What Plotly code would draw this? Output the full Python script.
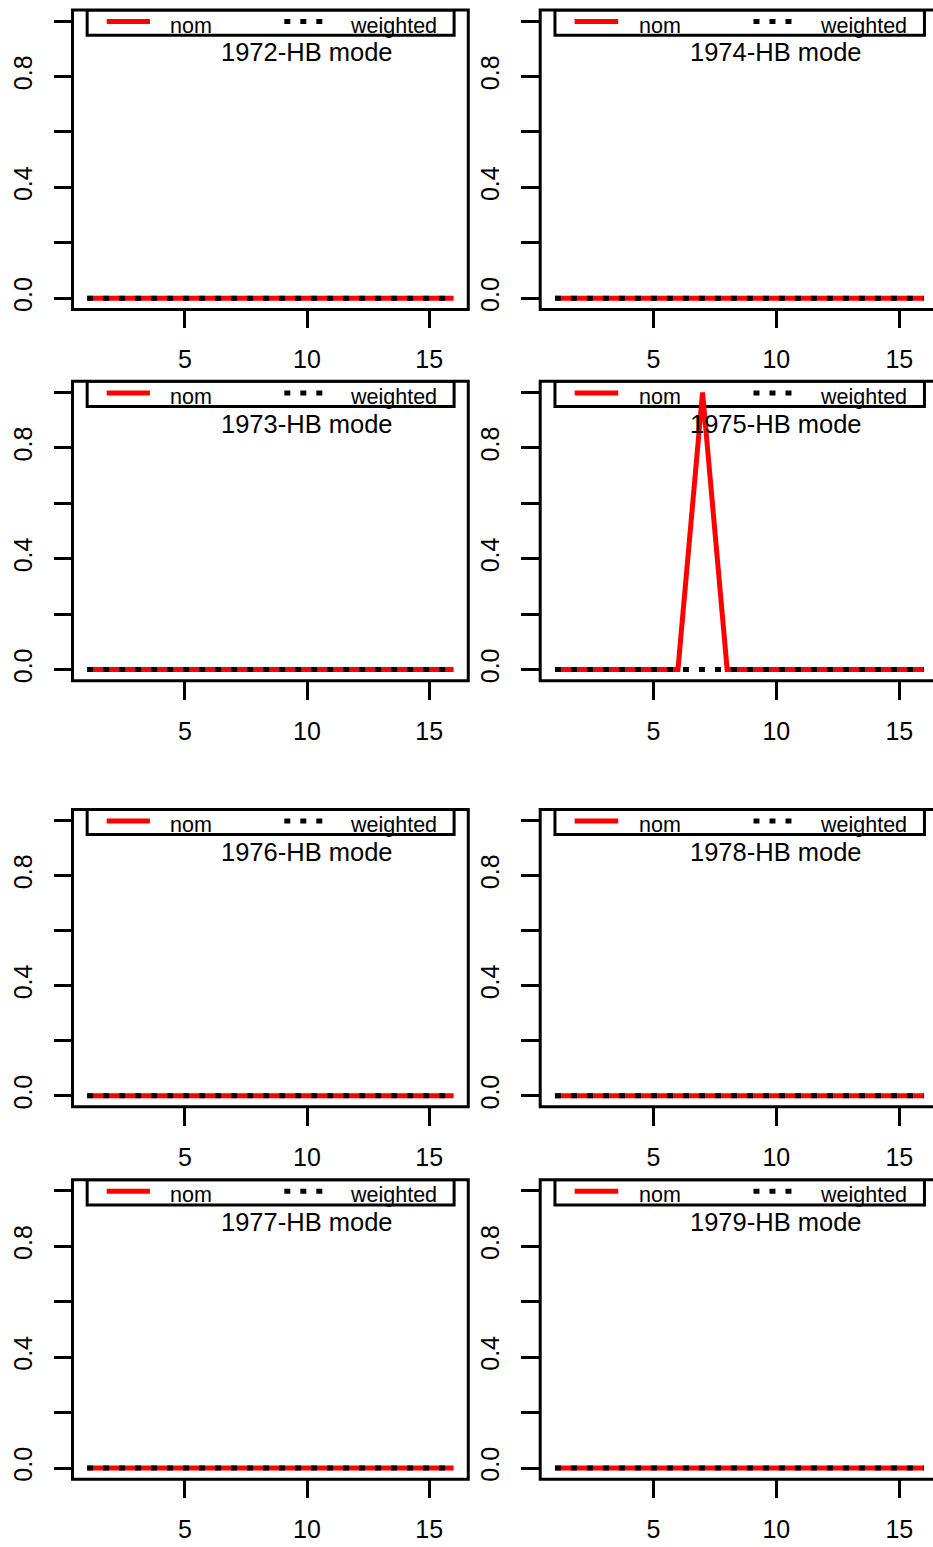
import plotly.graph_objects as go

# Age index on the horizontal axis
age_index = [1, 2, 3, 4, 5, 6, 7, 8, 9, 10, 11, 12, 13, 14, 15, 16]

# Nominal ("nom") and weighted mode proportions by year
nom_1972 = [0, 0, 0, 0, 0, 0, 0, 0, 0, 0, 0, 0, 0, 0, 0, 0]
weighted_1972 = [0, 0, 0, 0, 0, 0, 0, 0, 0, 0, 0, 0, 0, 0, 0, 0]
nom_1973 = [0, 0, 0, 0, 0, 0, 0, 0, 0, 0, 0, 0, 0, 0, 0, 0]
weighted_1973 = [0, 0, 0, 0, 0, 0, 0, 0, 0, 0, 0, 0, 0, 0, 0, 0]
nom_1974 = [0, 0, 0, 0, 0, 0, 0, 0, 0, 0, 0, 0, 0, 0, 0, 0]
weighted_1974 = [0, 0, 0, 0, 0, 0, 0, 0, 0, 0, 0, 0, 0, 0, 0, 0]
nom_1975 = [0, 0, 0, 0, 0, 0, 1, 0, 0, 0, 0, 0, 0, 0, 0, 0]
weighted_1975 = [0, 0, 0, 0, 0, 0, 0, 0, 0, 0, 0, 0, 0, 0, 0, 0]
nom_1976 = [0, 0, 0, 0, 0, 0, 0, 0, 0, 0, 0, 0, 0, 0, 0, 0]
weighted_1976 = [0, 0, 0, 0, 0, 0, 0, 0, 0, 0, 0, 0, 0, 0, 0, 0]
nom_1977 = [0, 0, 0, 0, 0, 0, 0, 0, 0, 0, 0, 0, 0, 0, 0, 0]
weighted_1977 = [0, 0, 0, 0, 0, 0, 0, 0, 0, 0, 0, 0, 0, 0, 0, 0]
nom_1978 = [0, 0, 0, 0, 0, 0, 0, 0, 0, 0, 0, 0, 0, 0, 0, 0]
weighted_1978 = [0, 0, 0, 0, 0, 0, 0, 0, 0, 0, 0, 0, 0, 0, 0, 0]
nom_1979 = [0, 0, 0, 0, 0, 0, 0, 0, 0, 0, 0, 0, 0, 0, 0, 0]
weighted_1979 = [0, 0, 0, 0, 0, 0, 0, 0, 0, 0, 0, 0, 0, 0, 0, 0]

# Tick positions and labels
x_tickvals = [5, 10, 15]
y_tickvals = [0.0, 0.2, 0.4, 0.6, 0.8, 1.0]
y_ticktext = ["0.0", "", "0.4", "", "0.8", ""]

legend_labels = ["nom", "weighted"]
title_suffix = "-HB mode"

# Panel order: (year, nom, weighted, column, row)
panels = [
    (1972, nom_1972, weighted_1972, 0, 0),
    (1974, nom_1974, weighted_1974, 1, 0),
    (1973, nom_1973, weighted_1973, 0, 1),
    (1975, nom_1975, weighted_1975, 1, 1),
    (1976, nom_1976, weighted_1976, 0, 2),
    (1978, nom_1978, weighted_1978, 1, 2),
    (1977, nom_1977, weighted_1977, 0, 3),
    (1979, nom_1979, weighted_1979, 1, 3),
]

W, H = 933, 1547
FONT = "Liberation Sans, Arial, sans-serif"
TICK_SIZE = 25
TITLE_SIZE = 25.5
LEG_SIZE = 21.5

# Plot-region edges in pixels
col_left = [72.5, 540.2]
col_px_per_unit = [24.43, 24.6]
row_top = [10, 382, 811, 1182]
row_bottom = [310, 682, 1109, 1482]
x_lo, x_hi = 0.4, 16.6
y_lo, y_hi = -0.04, 1.04

fig = go.Figure()
layout = dict(
    width=W, height=H, autosize=False,
    margin=dict(l=0, r=0, t=0, b=0),
    paper_bgcolor="white", plot_bgcolor="white",
    showlegend=False,
    shapes=[], annotations=[],
)

for i, (year, nom, weighted, col, row) in enumerate(panels, start=1):
    xa, ya = f"x{i}", f"y{i}"
    left = col_left[col]
    right_full = left + (x_hi - x_lo) * col_px_per_unit[col]
    right = min(right_full, W)
    x_end = x_lo + (right - left) / col_px_per_unit[col]

    fig.add_trace(go.Scatter(
        x=age_index, y=nom, mode="lines", name=legend_labels[0],
        line=dict(color="red", width=5), xaxis=xa, yaxis=ya,
    ))
    fig.add_trace(go.Scatter(
        x=age_index, y=weighted, mode="lines", name=legend_labels[1],
        line=dict(color="black", width=5, dash="6px,10px"), xaxis=xa, yaxis=ya,
    ))

    layout[f"xaxis{i}"] = dict(
        domain=[left / W, right / W], range=[x_lo, x_end], anchor=ya,
        tickvals=x_tickvals, ticks="outside", ticklen=18, tickwidth=3,
        tickcolor="black", showline=False, showgrid=False, zeroline=False,
        tickfont=dict(family=FONT, size=TICK_SIZE, color="black"),
        ticklabelstandoff=10,
    )
    layout[f"yaxis{i}"] = dict(
        domain=[1 - row_bottom[row] / H, 1 - row_top[row] / H],
        range=[y_lo, y_hi], anchor=xa,
        tickvals=y_tickvals, ticktext=y_ticktext, tickangle=-90,
        ticks="outside", ticklen=18, tickwidth=3, tickcolor="black",
        showline=False, showgrid=False, zeroline=False,
        tickfont=dict(family=FONT, size=TICK_SIZE, color="black"),
        ticklabelstandoff=12,
    )

    # Panel frame
    layout["shapes"].append(dict(
        type="rect", xref="paper", yref="paper", layer="below",
        x0=left / W, x1=right_full / W,
        y0=1 - row_bottom[row] / H, y1=1 - row_top[row] / H,
        line=dict(color="black", width=3), fillcolor="rgba(0,0,0,0)",
    ))

    # Legend frame and samples
    layout["shapes"].append(dict(
        type="rect", xref=xa, yref=ya, layer="below",
        x0=1.0, x1=16.02, y0=0.949, y1=1.04,
        line=dict(color="black", width=3), fillcolor="rgba(0,0,0,0)",
    ))
    layout["shapes"].append(dict(
        type="line", xref=xa, yref=ya, layer="below",
        x0=1.80, x1=3.57, y0=0.998, y1=0.998,
        line=dict(color="red", width=5),
    ))
    layout["shapes"].append(dict(
        type="line", xref=xa, yref=ya, layer="below",
        x0=9.07, x1=10.64, y0=0.998, y1=0.998,
        line=dict(color="black", width=5, dash="6px,10px"),
    ))
    layout["annotations"].append(dict(
        text=legend_labels[0], xref=xa, yref=ya, x=4.32, y=0.984,
        xanchor="left", yanchor="middle", showarrow=False,
        font=dict(family=FONT, size=LEG_SIZE, color="black"),
    ))
    layout["annotations"].append(dict(
        text=legend_labels[1], xref=xa, yref=ya, x=11.69, y=0.984,
        xanchor="left", yanchor="middle", showarrow=False,
        font=dict(family=FONT, size=LEG_SIZE, color="black"),
    ))

    # Panel title
    layout["annotations"].append(dict(
        text=f"{year}{title_suffix}", xref=xa, yref=ya, x=10, y=0.887,
        xanchor="center", yanchor="middle", showarrow=False,
        font=dict(family=FONT, size=TITLE_SIZE, color="black"),
    ))

fig.update_layout(**layout)
fig.write_html("out.html")
